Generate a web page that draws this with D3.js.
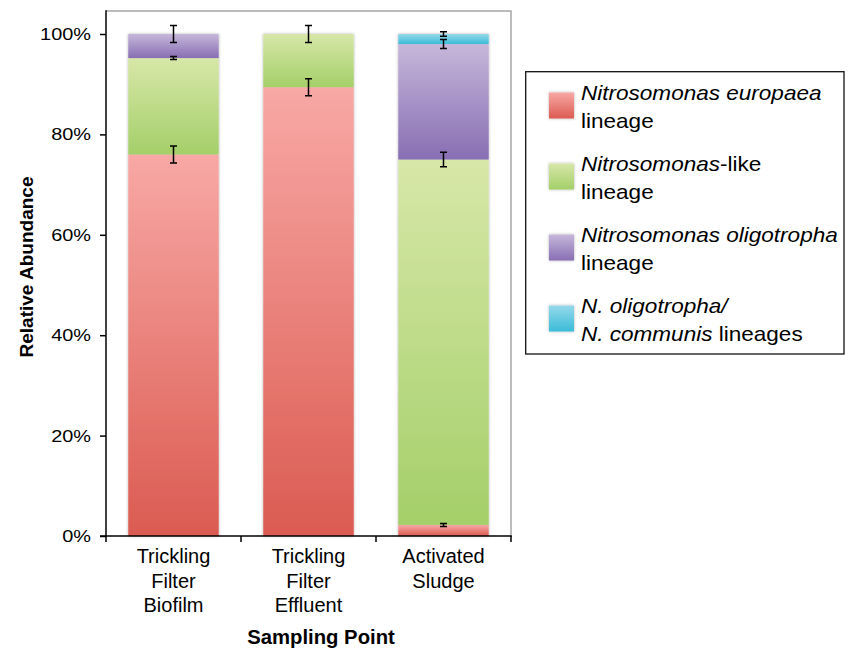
<!DOCTYPE html>
<html><head><meta charset="utf-8">
<script src="https://cdn.jsdelivr.net/npm/d3@7"></script>
<style>
body{margin:0;background:#fff}
svg{display:block}
text{font-family:"Liberation Sans",Arial,Helvetica,sans-serif;fill:#000}
</style>
</head><body>
<svg id="chart" width="849" height="651"></svg>
<script>
// ---- data ----
const categories = ["Trickling Filter Biofilm", "Trickling Filter Effluent", "Activated Sludge"];
const categoryLines = [["Trickling", "Filter", "Biofilm"], ["Trickling", "Filter", "Effluent"], ["Activated", "Sludge"]];
const seriesKeys = ["europaea", "like", "oligotropha", "communis"];
const europaea = [76.0, 89.4, 2.2];
const nLike = [19.2, 10.6, 72.8];
const oligotropha = [4.8, 0, 23.0];
const communis = [0, 0, 2.0];
const europaeaErr = [1.7, 1.7, 0.3];
const nLikeErr = [0.3, 1.7, 1.45];
const oligotrophaErr = [1.7, 0, 0.9];
const communisErr = [0, 0, 0.45];
const yTicks = [0, 20, 40, 60, 80, 100];
const yTitle = "Relative Abundance";
const xTitle = "Sampling Point";
// legend: lines of [text, italic] segments
const legendLabels = [
  [[["Nitrosomonas europaea", true]], [["lineage", false]]],
  [[["Nitrosomonas", true], ["-like", false]], [["lineage", false]]],
  [[["Nitrosomonas oligotropha", true]], [["lineage", false]]],
  [[["N. oligotropha/", true]], [["N. communis", true], [" lineages", false]]]
];

// ---- styles ----
const gradColors = {
  europaea: ["#f8a8a5", "#db5b51"],
  like: ["#d7e7a8", "#a4cf69"],
  oligotropha: ["#c6b7da", "#886eb3"],
  communis: ["#95d8ea", "#3bbcd8"]
};

const svg = d3.select("#chart");
const plotLeft = 106, plotRight = 511, plotTop = 11, plotBottom = 536;

const values = {europaea, like: nLike, oligotropha, communis};
const errs = {europaea: europaeaErr, like: nLikeErr, oligotropha: oligotrophaErr, communis: communisErr};
const table = categories.map((c, i) => {
  const row = {cat: c, idx: i};
  seriesKeys.forEach(k => row[k] = values[k][i]);
  return row;
});
const stacked = d3.stack().keys(seriesKeys)(table);

const x = d3.scaleBand().domain(categories).range([plotLeft, plotRight]).paddingInner(0.33).paddingOuter(0.165);
const y = d3.scaleLinear().domain([0, 100]).range([plotBottom, 34]);

// defs
const defs = svg.append("defs");
seriesKeys.forEach(k => {
  const g = defs.append("linearGradient").attr("id", "g-" + k).attr("x1", 0).attr("y1", 0).attr("x2", 0).attr("y2", 1);
  g.append("stop").attr("offset", "0%").attr("stop-color", gradColors[k][0]);
  g.append("stop").attr("offset", "100%").attr("stop-color", gradColors[k][1]);
});
const f = defs.append("filter").attr("id", "shadow").attr("x", "-10%").attr("y", "-10%").attr("width", "120%").attr("height", "120%");
f.append("feDropShadow").attr("dx", 0).attr("dy", 0).attr("stdDeviation", 1.6).attr("flood-color", "#000").attr("flood-opacity", 0.3);

// frame (top & right)
svg.append("path")
  .attr("d", `M${plotLeft},${plotTop}H${plotRight}V${plotBottom}`)
  .attr("fill", "none").attr("stroke", "#a6a6a6").attr("stroke-width", 1.5);

// bars
const barGroups = svg.append("g").selectAll("g.col").data(table).join("g")
  .attr("class", "col").attr("filter", "url(#shadow)");
barGroups.each(function(row, i) {
  const g = d3.select(this);
  stacked.forEach(s => {
    const d = s[i];
    if (d[1] - d[0] <= 0) return;
    g.append("rect")
      .attr("x", x(row.cat))
      .attr("width", x.bandwidth())
      .attr("y", y(d[1]))
      .attr("height", y(d[0]) - y(d[1]))
      .attr("fill", `url(#g-${s.key})`);
  });
});

// error bars
const eg = svg.append("g").attr("stroke", "#000").attr("stroke-width", 1.5).attr("fill", "none");
stacked.forEach(s => {
  s.forEach((d, i) => {
    const e = errs[s.key][i];
    if (!e || d[1] - d[0] <= 0) return;
    const cx = x(categories[i]) + x.bandwidth() / 2;
    const y1 = y(d[1] + e), y2 = y(d[1] - e);
    eg.append("path").attr("d", `M${cx},${y1}V${y2}M${cx - 3.5},${y1}H${cx + 3.5}M${cx - 3.5},${y2}H${cx + 3.5}`);
  });
});

// y axis
const yAxis = svg.append("g").attr("transform", `translate(${plotLeft},0)`)
  .call(d3.axisLeft(y).tickValues(yTicks).tickFormat(d => d + "%").tickSize(6).tickSizeOuter(0).tickPadding(9));
yAxis.select(".domain").remove();
yAxis.selectAll(".tick line").attr("stroke", "#000").attr("stroke-width", 1.5);
yAxis.selectAll(".tick text")
  .attr("font-family", "Liberation Sans, Arial, sans-serif")
  .attr("font-size", 17)
  .attr("fill", "#000")
  .attr("x", null)
  .attr("transform", "translate(-15,0) scale(1.17,1)");
svg.append("line").attr("x1", plotLeft).attr("x2", plotLeft).attr("y1", plotTop - 0.75).attr("y2", plotBottom)
  .attr("stroke", "#000").attr("stroke-width", 1.5);

// x axis
svg.append("line").attr("x1", plotLeft - 6).attr("x2", plotRight + 0.75).attr("y1", plotBottom).attr("y2", plotBottom)
  .attr("stroke", "#000").attr("stroke-width", 1.5);
const step = x.step();
const boundaries = categories.map(c => x(c) - step * x.paddingInner() / 2).concat([plotRight]);
svg.append("g").selectAll("line").data(boundaries).join("line")
  .attr("x1", d => d).attr("x2", d => d).attr("y1", plotBottom).attr("y2", plotBottom + 6)
  .attr("stroke", "#000").attr("stroke-width", 1.5);

// category labels
svg.append("g").selectAll("text").data(categories).join("text")
  .attr("text-anchor", "middle").attr("font-size", 20)
  .each(function(c, i) {
    const t = d3.select(this);
    categoryLines[i].forEach((ln, j) => {
      t.append("tspan").attr("x", x(c) + x.bandwidth() / 2).attr("y", 563 + j * 24.5).text(ln);
    });
  });

// axis titles
svg.append("text").attr("text-anchor", "middle").attr("font-weight", "bold").attr("font-size", 20.3)
  .attr("x", 321).attr("y", 644).text(xTitle);
svg.append("text").attr("text-anchor", "middle").attr("font-weight", "bold").attr("font-size", 19)
  .attr("transform", "translate(33,267) rotate(-90)").text(yTitle);

// legend
svg.append("rect").attr("x", 525.7).attr("y", 71.7).attr("width", 318.3).attr("height", 282.3)
  .attr("fill", "none").attr("stroke", "#111").attr("stroke-width", 1.3);
const legendStep = 71;
seriesKeys.forEach((k, i) => {
  const base = 100 + i * legendStep;
  svg.append("rect").attr("x", 549).attr("y", base - 7.5).attr("width", 25).attr("height", 26)
    .attr("fill", `url(#g-${k})`).attr("filter", "url(#shadow)");
  legendLabels[i].forEach((line, j) => {
    const t = svg.append("text").attr("font-size", 20.5)
      .attr("transform", `translate(581,${base + j * 27.6}) scale(1.1,1)`);
    line.forEach(seg => {
      t.append("tspan").attr("font-style", seg[1] ? "italic" : "normal").text(seg[0]);
    });
  });
});
</script>
</body></html>
